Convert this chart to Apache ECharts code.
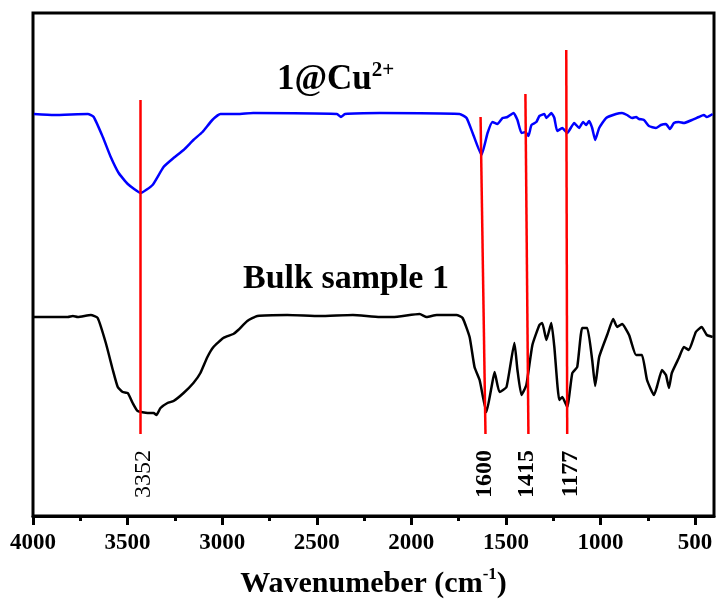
<!DOCTYPE html>
<html>
<head>
<meta charset="utf-8">
<script src="https://cdn.jsdelivr.net/npm/echarts@6/dist/echarts.min.js"></script>
<style>
html,body{margin:0;padding:0;background:#fff;}
#c{width:716px;height:610px;}
</style>
</head>
<body>
<div id="c"></div>
<script>
// Tick labels
var majorTicks = [4000, 3500, 3000, 2500, 2000, 1500, 1000, 500];
var minorTicks = [3750, 3250, 2750, 2250, 1750, 1250, 750];

// 1@Cu2+ spectrum (wavenumber, transmittance a.u.)
var cuX = [3995,3889,3710,3679,3631,3589,3547,3499,3431,3368,3310,3257,3204,3152,3104,3052,3009,2920,2836,2393,2372,2351,2166,1745,1708,1676,1629,1597,1571,1545,1518,1492,1460,1439,1418,1397,1381,1365,1339,1323,1297,1286,1260,1244,1229,1202,1176,1139,1113,1092,1076,1060,1044,1028,1007,970,918,886,860,833,812,796,770,744,707,681,654,633,612,586,559,517,480,454,438,407];
var cuY = [402,401,402,399,379,359,343,332,323,331,349,358,366,376,384,396,402,402,403,402,399,402,403,402,398,383,361,383,394,392,398,399,403,396,383,384,380,391,394,400,402,398,403,398,385,388,383,393,388,394,391,395,388,376,388,398,402,403,401,398,399,397,396,390,388,391,392,387,393,394,393,396,399,401,399,402];

// Bulk sample 1 spectrum
var bulkX = [3995,3816,3789,3763,3694,3658,3615,3578,3552,3526,3499,3473,3447,3394,3362,3347,3326,3289,3257,3204,3152,3115,3078,3046,2994,2941,2915,2867,2814,2656,2483,2309,2166,2098,1956,1919,1866,1761,1729,1692,1666,1639,1603,1576,1560,1534,1497,1455,1439,1418,1392,1360,1323,1308,1286,1260,1244,1218,1202,1176,1149,1123,1097,1070,1044,1028,1007,965,933,912,886,849,812,781,754,717,702,675,654,638,623,586,559,533,496,465,438,407];
var bulkY = [199,199,200,199,201,198,173,146,129,124,123,113,105,103,103,101,108,113,115,123,133,143,159,169,178,182,186,195,200,201,200,201,199,199,202,199,201,201,198,179,149,136,104,129,144,124,129,173,146,121,131,171,191,193,176,193,169,116,119,109,143,149,188,188,156,130,159,181,197,189,192,181,161,161,136,121,129,146,141,128,143,158,169,166,184,189,181,179];

// Red marker lines
var markTopX = [3431, 1634, 1397, 1181];
var markBottomX = [3431, 1608, 1381, 1176];
var markTopY = [416, 399, 422, 466];
var markBottomY = [82, 82, 82, 82];
var peakLabels = ['3352', '1600', '1415', '1177'];
var peakLabelBold = [false, true, true, true];
var peakLabelX = [3415, 1613, 1387, 1155];
var peakLabelY = [42, 42, 42, 42];

var FONT = "'Liberation Serif','Times New Roman',serif";

function zip(a, b) { return a.map(function (v, i) { return [v, b[i]]; }); }

var chart = echarts.init(document.getElementById('c'), null, {renderer: 'canvas'});

var option = {
  backgroundColor: '#fff',
  animation: false,
  grid: {left: 33, right: 2, top: 13, bottom: 94, show: true, borderColor: '#000', borderWidth: 3},
  xAxis: [{
    type: 'value', min: 400, max: 4000, inverse: true, position: 'bottom',
    axisLine: {show: true, onZero: false, lineStyle: {color: '#000', width: 3}},
    axisTick: {show: true, inside: false, length: 9, lineStyle: {color: '#000', width: 3}, customValues: majorTicks},
    axisLabel: {
      show: true, customValues: majorTicks, color: '#000', fontFamily: FONT, fontWeight: 'bold', fontSize: 23, margin: 16,
      formatter: function (v) { return String(v); }
    },
    splitLine: {show: false},
    name: '{a|Wavenumeber (cm}{s|-1}{a|)}',
    nameLocation: 'middle', nameGap: 50,
    nameTextStyle: {
      color: '#000',
      rich: {
        a: {fontFamily: FONT, fontWeight: 'bold', fontSize: 30, lineHeight: 36, color: '#000'},
        s: {fontFamily: FONT, fontWeight: 'bold', fontSize: 17, lineHeight: 36, verticalAlign: 'top', color: '#000'}
      }
    }
  }, {
    type: 'value', min: 400, max: 4000, inverse: true, position: 'bottom',
    axisLine: {show: false, onZero: false},
    axisTick: {show: true, inside: false, length: 5, lineStyle: {color: '#000', width: 3}, customValues: minorTicks},
    axisLabel: {show: false},
    splitLine: {show: false}
  }],
  yAxis: {
    type: 'value', min: 0, max: 503, show: false, splitLine: {show: false}
  },
  graphic: [
    {
      type: 'text', left: 277, top: 60, z: 100,
      style: {
        text: '{a|1@Cu}{s|2+}',
        rich: {
          a: {fontFamily: FONT, fontWeight: 'bold', fontSize: 35, lineHeight: 40, fill: '#000', color: '#000'},
          s: {fontFamily: FONT, fontWeight: 'bold', fontSize: 21, lineHeight: 40, verticalAlign: 'top', fill: '#000', color: '#000'}
        }
      }
    },
    {
      type: 'text', left: 243, top: 262, z: 100,
      style: {text: 'Bulk sample 1', font: "bold 34px 'Liberation Serif','Times New Roman',serif", fill: '#000'}
    }
  ],
  series: [
    {
      type: 'line', name: '1@Cu2+', data: zip(cuX, cuY), showSymbol: false, symbol: 'none',
      lineStyle: {color: '#0000ff', width: 2.5}, smooth: 0.15, z: 3
    },
    {
      type: 'line', name: 'Bulk sample 1', data: zip(bulkX, bulkY), showSymbol: false, symbol: 'none',
      lineStyle: {color: '#000', width: 2.5}, smooth: 0.15, z: 3
    },
    {
      type: 'lines', coordinateSystem: 'cartesian2d', z: 4,
      lineStyle: {color: '#ff0000', width: 2.5, opacity: 1},
      data: markTopX.map(function (x, i) {
        return {coords: [[x, markTopY[i]], [markBottomX[i], markBottomY[i]]]};
      })
    },
    {
      type: 'scatter', symbolSize: 0, z: 5,
      itemStyle: {color: '#000', opacity: 1},
      data: peakLabelX.map(function (x, i) {
        return {
          value: [x, peakLabelY[i]],
          label: {fontWeight: peakLabelBold[i] ? 'bold' : 'normal'}
        };
      }),
      label: {
        show: true, position: 'inside', rotate: 90, color: '#000', opacity: 1,
        fontFamily: FONT, fontSize: 24,
        formatter: function (p) { return peakLabels[p.dataIndex]; }
      }
    }
  ]
};
chart.setOption(option);
</script>
</body>
</html>
